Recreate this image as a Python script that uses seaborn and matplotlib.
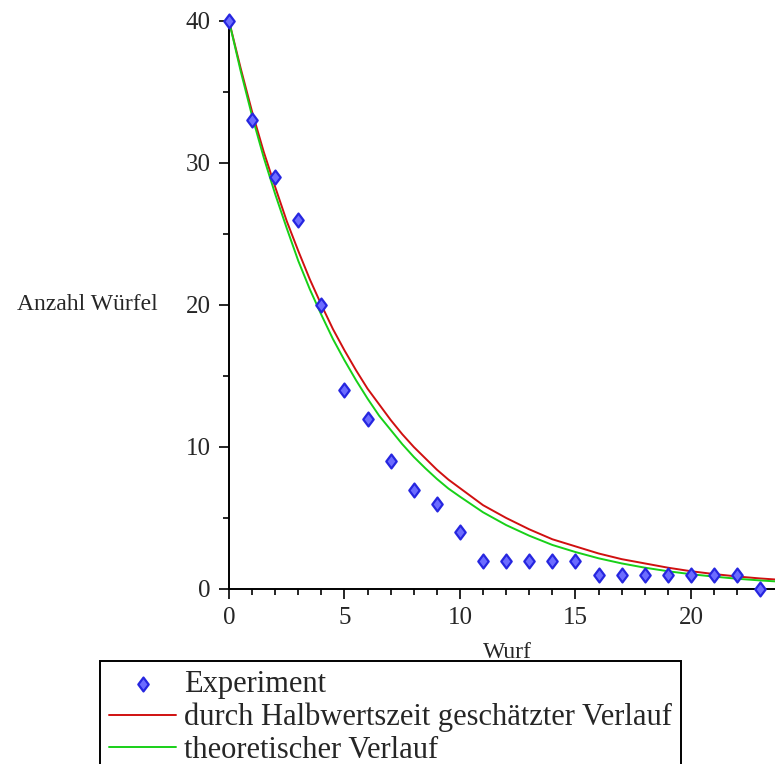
import numpy as np
import matplotlib
matplotlib.use("Agg")
import matplotlib.pyplot as plt
import seaborn as sns
import pandas as pd
from matplotlib.path import Path

# Wurf-Nummer und Anzahl der verbliebenen Würfel (Experiment)
wurf = [0, 1, 2, 3, 4, 5, 6, 7, 8, 9, 10, 11, 12, 13, 14, 15, 16, 17, 18, 19, 20, 21, 22, 23]
anzahl = [40, 33, 29, 26, 20, 14, 12, 9, 7, 6, 4, 2, 2, 2, 2, 2, 1, 1, 1, 1, 1, 1, 1, 0]

# Kurven (oben halbe Schritte, wo sie stark gekrümmt sind)
wurf_kurve = [0, 0.5, 1, 1.5, 2, 2.5, 3, 3.5, 4, 4.5, 5, 5.5, 6, 6.5, 7, 7.5, 8, 8.5, 9, 9.5,
              10, 11, 12, 13, 14, 15, 16, 17, 18, 19, 20, 21, 22, 23, 24]
halbwert = [40, 36.7, 33.6, 30.8, 28.3, 25.9, 23.8, 21.8, 20, 18.3, 16.8, 15.4, 14.1, 13.0,
            11.9, 10.9, 10, 9.2, 8.4, 7.7, 7.1, 5.9, 5.0, 4.2, 3.5,
            3.0, 2.5, 2.1, 1.8, 1.5, 1.25, 1.05, 0.88, 0.74, 0.63]
theorie = [40, 36.5, 33.3, 30.4, 27.8, 25.4, 23.1, 21.1, 19.3, 17.6, 16.1, 14.7, 13.4, 12.2,
           11.2, 10.2, 9.3, 8.5, 7.75, 7.07, 6.5, 5.4, 4.5, 3.75, 3.1,
           2.6, 2.16, 1.8, 1.5, 1.25, 1.04, 0.87, 0.72, 0.6, 0.5]

labels = ["Experiment", "durch Halbwertszeit geschätzter Verlauf", "theoretischer Verlauf"]

df_exp = pd.DataFrame({"Wurf": wurf, "Anzahl": anzahl})
df_rot = pd.DataFrame({"Wurf": wurf_kurve, "Anzahl": halbwert})
df_gruen = pd.DataFrame({"Wurf": wurf_kurve, "Anzahl": theorie})

sns.set_style("white")
plt.rcParams['font.family'] = ['Liberation Serif', 'DejaVu Serif']

fig = plt.figure(figsize=(7.75, 7.64), dpi=100)
ax = fig.add_axes([0.2955, 0.2291, 0.7045, 0.7435])

# Maple-artige Raute
raute = Path([(0, 1), (0.75, 0), (0, -1), (-0.75, 0), (0, 1)],
             [Path.MOVETO, Path.LINETO, Path.LINETO, Path.LINETO, Path.CLOSEPOLY])

sns.lineplot(data=df_rot, x="Wurf", y="Anzahl", color="#d01010", linewidth=1.4, ax=ax,
             label=labels[1], zorder=2)
sns.lineplot(data=df_gruen, x="Wurf", y="Anzahl", color="#18d018", linewidth=1.4, ax=ax,
             label=labels[2], zorder=2)
sns.scatterplot(data=df_exp, x="Wurf", y="Anzahl", marker=raute, s=100, color="#6c6cff",
                edgecolor="#2626e0", linewidth=1.6, ax=ax, label=labels[0], zorder=3,
                clip_on=False)

ax.set_xlim(0, 23.64)
ax.set_ylim(0, 40)

# Achsen wie bei Maple
for s in ["top", "right"]:
    ax.spines[s].set_visible(False)
for s in ["left", "bottom"]:
    ax.spines[s].set_linewidth(1.4)
    ax.spines[s].set_color("black")

ax.set_xticks([0, 5, 10, 15, 20])
ax.set_xticks(range(0, 24), minor=True)
ax.set_yticks([0, 10, 20, 30, 40])
ax.set_yticks([5, 15, 25, 35], minor=True)
ax.tick_params(which="major", direction="out", length=7, width=1.4, labelsize=18, pad=6,
               left=True, bottom=True)
ax.tick_params(which="minor", direction="out", length=4.5, width=1.4, left=True, bottom=True)

ax.set_xlabel("Wurf", fontsize=17, va="center", ha="center")
ax.xaxis.set_label_coords(0.509, -0.112)
ax.set_ylabel("Anzahl Würfel", fontsize=17, rotation=0, va="center", ha="right")
ax.yaxis.set_label_coords(-0.13, 0.5)

handles, labs = ax.get_legend_handles_labels()
order = [labs.index(l) for l in labels]
leg = fig.legend([handles[i] for i in order], [labs[i] for i in order],
                 loc="upper left", bbox_to_anchor=(100 / 775, 1 - 661 / 764),
                 fontsize=22, frameon=True, fancybox=False, framealpha=1,
                 borderpad=0.3, labelspacing=0.12, handlelength=2.2, handletextpad=0.25,
                 borderaxespad=0)
leg.get_frame().set_edgecolor("black")
leg.get_frame().set_linewidth(1.4)
ax.legend_.remove() if ax.legend_ else None

fig.savefig("out.png", dpi=100)
